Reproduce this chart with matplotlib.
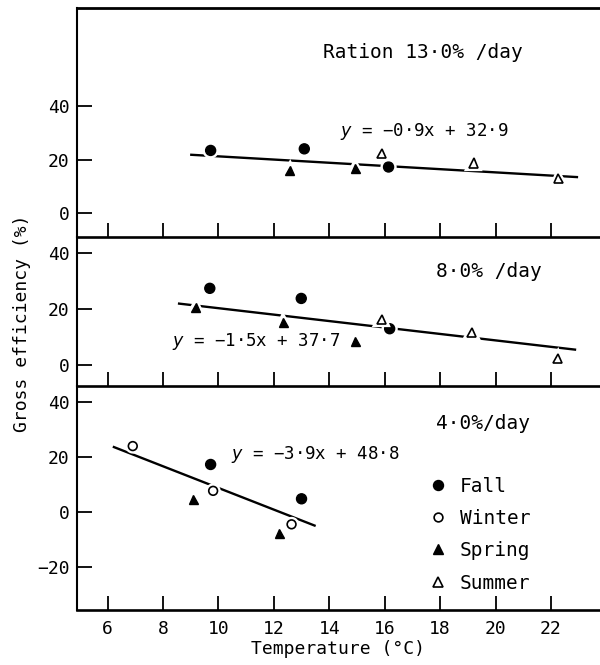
"""
Gross efficiency vs temperature at three ration levels (13.0, 8.0, 4.0 %/day),
seasons marked by symbol, one fitted line per panel.
Output: out.png (600x665)
"""
import matplotlib
matplotlib.use("Agg")
import matplotlib.pyplot as plt
import matplotlib.patheffects as pe
from matplotlib.lines import Line2D

plt.rcParams.update({"font.family": ["DejaVu Sans Mono", "DejaVu Sans"]})

# ── data ────────────────────────────────────────────────────────────────────
# ration 13.0 %/day
r13_fall_t, r13_fall_e = [9.72, 13.10, 16.14], [23.5, 24.1, 17.3]
r13_spring_t, r13_spring_e = [12.57, 14.94], [15.9, 16.9]
r13_summer_t, r13_summer_e = [15.90, 19.22, 22.26], [22.2, 18.8, 12.9]
r13_fit_t, r13_fit_e = [8.98, 22.98], [21.9, 13.5]

# ration 8.0 %/day
r8_fall_t, r8_fall_e = [9.69, 12.99, 16.18], [27.5, 23.9, 13.1]
r8_spring_t, r8_spring_e = [9.19, 12.34, 14.94], [20.7, 15.2, 8.7]
r8_summer_t, r8_summer_e = [15.89, 19.15, 22.24], [16.4, 11.7, 2.4]
r8_fit_t, r8_fit_e = [8.54, 22.91], [22.1, 5.6]

# ration 4.0 %/day
r4_fall_t, r4_fall_e = [9.72, 13.00], [17.3, 4.8]
r4_winter_t, r4_winter_e = [6.91, 9.81, 12.64], [24.0, 7.7, -4.5]
r4_spring_t, r4_spring_e = [9.09, 12.20], [4.5, -7.9]
r4_fit_t, r4_fit_e = [6.19, 13.51], [23.8, -5.1]

x_ticks = [6, 8, 10, 12, 14, 16, 18, 20, 22]

INK = "black"
halo = [pe.Stroke(linewidth=4.5, foreground="white"), pe.Normal()]
STYLE = {
    "Fall":   dict(marker="o", ms=7.2, mfc=INK, mec=INK, mew=1.0),
    "Winter": dict(marker="o", ms=6.3, mfc="white", mec=INK, mew=1.2),
    "Spring": dict(marker="^", ms=6.5, mfc=INK, mec=INK, mew=1.0),
    "Summer": dict(marker="^", ms=6.5, mfc="white", mec=INK, mew=1.2),
}

fig = plt.figure(figsize=(6, 6.65), dpi=100)
L = 76.5 / 600
ax1 = fig.add_axes([L, 1 - 237 / 665, 1 - L, (237 - 7.5) / 665])
ax2 = fig.add_axes([L, 1 - 386.5 / 665, 1 - L, (386.5 - 237) / 665])
ax3 = fig.add_axes([L, 1 - 610 / 665, 1 - L, (610 - 386.5) / 665])


def season(ax, t, e, name):
    ax.plot(t, e, ls="none", zorder=3, path_effects=halo, **STYLE[name])


def fit(ax, t, e):
    ax.plot(t, e, color=INK, lw=1.7, solid_capstyle="butt", zorder=2)


for ax, ylim, yt in [(ax1, (-8.9, 77), [0, 20, 40]),
                     (ax2, (-7.5, 45.8), [0, 20, 40]),
                     (ax3, (-35.7, 45.7), [-20, 0, 20, 40])]:
    ax.set_xlim(4.88, 23.77)
    ax.set_ylim(*ylim)
    ax.set_xticks(x_ticks)
    ax.set_yticks(yt)
    ax.tick_params(axis="x", direction="in", length=10, width=1.3, pad=7,
                   labelsize=13)
    ax.tick_params(axis="y", direction="in", length=11, width=1.3, pad=5,
                   labelsize=13)
    ax.spines["right"].set_visible(False)
    ax.spines["top"].set_visible(False)
    ax.spines["left"].set_linewidth(1.5)
    ax.spines["bottom"].set_linewidth(1.9)
    ax.set_facecolor("none")
ax1.spines["top"].set_visible(True)
ax1.spines["top"].set_linewidth(2.0)
ax1.tick_params(axis="x", labelbottom=False)
ax2.tick_params(axis="x", labelbottom=False)

# ── panel 1 ────────────────────────────────────────────────────────────────
fit(ax1, r13_fit_t, r13_fit_e)
season(ax1, r13_fall_t, r13_fall_e, "Fall")
season(ax1, r13_spring_t, r13_spring_e, "Spring")
season(ax1, r13_summer_t, r13_summer_e, "Summer")
ax1.text(13.79, 60, "Ration 13·0% /day", fontsize=14, ha="left", va="center")
ax1.text(14.38, 30.6, "$y$ = −0·9x + 32·9", fontsize=12.5, ha="left", va="center")

# ── panel 2 ────────────────────────────────────────────────────────────────
fit(ax2, r8_fit_t, r8_fit_e)
season(ax2, r8_fall_t, r8_fall_e, "Fall")
season(ax2, r8_spring_t, r8_spring_e, "Spring")
season(ax2, r8_summer_t, r8_summer_e, "Summer")
ax2.text(17.86, 33.4, "8·0% /day", fontsize=14, ha="left", va="center")
ax2.text(8.33, 8.4, "$y$ = −1·5x + 37·7", fontsize=12.5, ha="left", va="center")

# ── panel 3 ────────────────────────────────────────────────────────────────
fit(ax3, r4_fit_t, r4_fit_e)
season(ax3, r4_fall_t, r4_fall_e, "Fall")
season(ax3, r4_winter_t, r4_winter_e, "Winter")
season(ax3, r4_spring_t, r4_spring_e, "Spring")
ax3.text(17.86, 32.4, "4·0%/day", fontsize=14, ha="left", va="center")
ax3.text(10.47, 21.0, "$y$ = −3·9x + 48·8", fontsize=12.5, ha="left", va="center")

handles = [Line2D([], [], ls="none", **STYLE[s]) for s in STYLE]
ax3.legend(handles, list(STYLE), loc="upper left", bbox_to_anchor=(17.65, 12.8),
           bbox_transform=ax3.transData, frameon=False, fontsize=14,
           handlelength=0.8, handletextpad=0.7, labelspacing=0.68,
           borderpad=0, borderaxespad=0)

ax3.set_xlabel("Temperature (°C)", fontsize=13, labelpad=2)
fig.text(0.036, 0.514, "Gross efficiency (%)", rotation=90, fontsize=13,
         ha="center", va="center")

fig.savefig("out.png", dpi=100)
plt.close(fig)
